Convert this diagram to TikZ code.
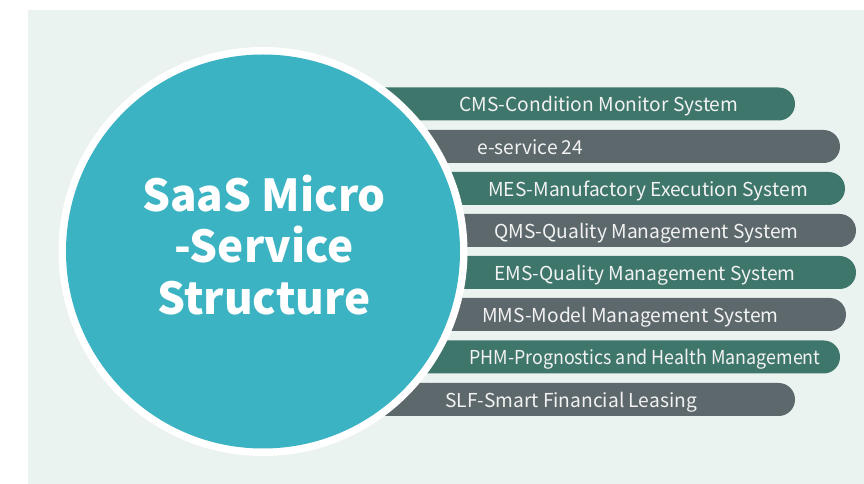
\documentclass[tikz,border=0pt]{standalone}
\usepackage{fontspec}
\setmainfont{Noto Sans CJK SC}
\definecolor{panelbg}{HTML}{EAF3F0}
\definecolor{circteal}{HTML}{3BB3C2}
\definecolor{bargreen}{HTML}{3E766B}
\definecolor{bargray}{HTML}{5D686C}
\definecolor{bartext}{HTML}{F2F2F2}
\tikzset{
  x=0.75pt, y=-0.75pt,
  greenbar/.style={fill=bargreen, rounded corners=12.3pt},
  graybar/.style={fill=bargray, rounded corners=12.3pt},
  bartxt/.style={anchor=base west, inner sep=0pt, text=bartext, font=\fontsize{14.4pt}{17pt}\selectfont},
}
\begin{document}
\begin{tikzpicture}
\useasboundingbox (0,0) rectangle (864,484);
\fill[white] (0,0) rectangle (864,484);
\fill[panelbg] (28,10) rectangle (864,484);
% bars
\fill[greenbar] (263,87.5) rectangle (795,120.5);
\fill[graybar]  (263,130) rectangle (840,163);
\fill[greenbar] (263,172) rectangle (845,205);
\fill[graybar]  (263,214) rectangle (856,247);
\fill[greenbar] (263,256) rectangle (856,289);
\fill[graybar]  (263,298) rectangle (846,331);
\fill[greenbar] (263,340.5) rectangle (840,373.5);
\fill[graybar]  (263,383) rectangle (795,416);
% circle
\fill[white] (263,251.5) circle (204.5*0.75pt);
\node[circle, fill=circteal, minimum size=394*0.75pt, inner sep=0pt] (hub) at (263,251.5) {};
\node[text=white, align=center, font=\bfseries\fontsize{33pt}{38.3pt}\selectfont] (title) at (264,245) {SaaS Micro\\-Service\\Structure};
% bar texts
\node[bartxt] (cms) at (459,112) {CMS-Condition Monitor System};
\node[bartxt] (eserv) at (477,154.5) {e-service 24};
\node[bartxt] (mes) at (488,196.5) {MES-Manufactory Execution System};
\node[bartxt] (qms) at (494,238.5) {QMS-Quality Management System};
\node[bartxt] (ems) at (494,280.5) {EMS-Quality Management System};
\node[bartxt] (mms) at (482,322.5) {MMS-Model Management System};
\node[bartxt] (phm) at (469,365) {\scalebox{0.93}[1]{PHM-Prognostics and Health Management}};
\node[bartxt] (slf) at (445,407.5) {SLF-Smart Financial Leasing};
\end{tikzpicture}
\end{document}
